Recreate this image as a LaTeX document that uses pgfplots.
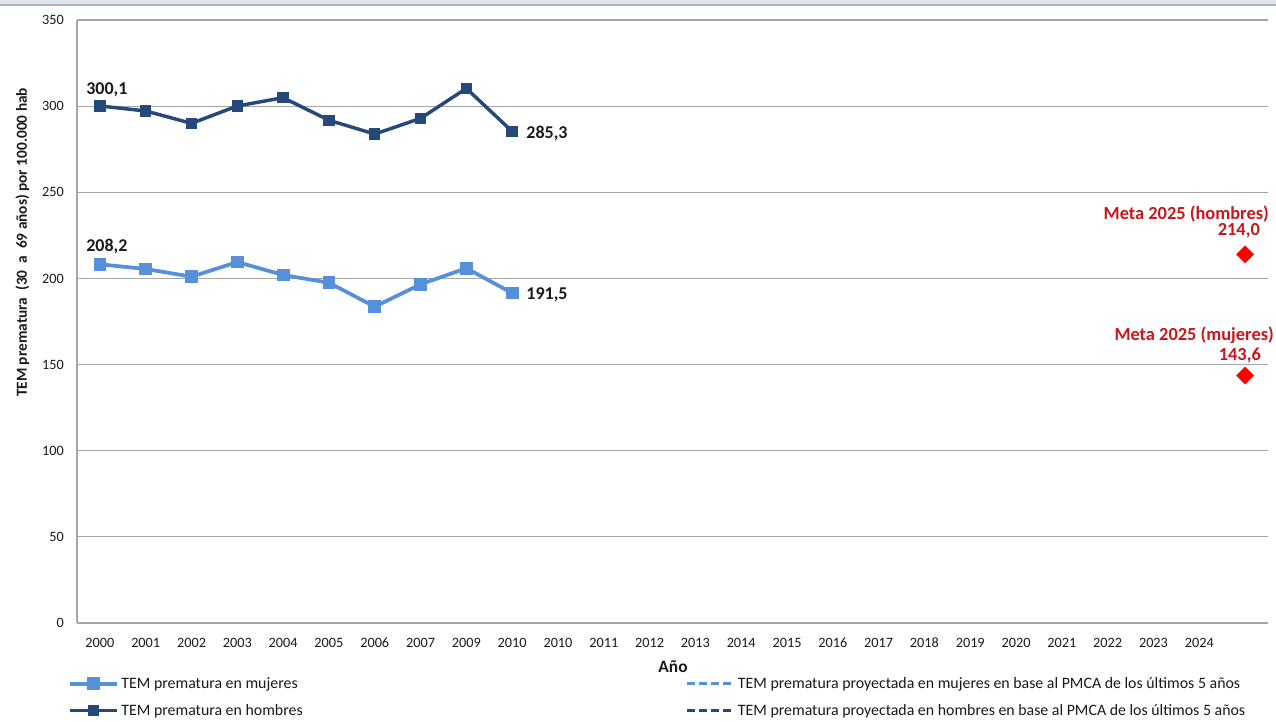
\documentclass[border=0pt]{standalone}
\usepackage{fontspec}
\setmainfont{Carlito}
\usepackage{pgfplots}
\pgfplotsset{compat=1.18}
\definecolor{men}{HTML}{26497C}
\definecolor{women}{HTML}{5590D8}
\definecolor{gridc}{HTML}{A6A6A6}
\definecolor{meta}{HTML}{C8161D}
\definecolor{txt}{HTML}{1A1A1A}
\definecolor{topband}{HTML}{DCE4EE}
\begin{document}
\begin{tikzpicture}[x=0.75pt,y=0.75pt]
\useasboundingbox (0,0) rectangle (1276,721);
\fill[white] (0,0) rectangle (1276,721);
\fill[topband] (0,716) rectangle (1276,721);
\draw[gray!60, line width=1.2pt] (0,716) -- (1276,716);
\begin{axis}[
  at={(57.75pt,73.5pt)}, anchor=south west,
  scale only axis, width=893.25pt, height=452.25pt,
  xmin=-0.5, xmax=25.5, ymin=0, ymax=350,
  axis x line*=bottom, axis y line*=left,
  xtick={0,...,24},
  xticklabels={2000,2001,2002,2003,2004,2005,2006,2007,2009,2010,2010,2011,2012,2013,2014,2015,2016,2017,2018,2019,2020,2021,2022,2023,2024},
  major tick length=0pt,
  ytick={0,50,...,350},
  ymajorgrids, grid style={gridc, line width=0.9pt},
  axis line style={gridc, line width=1.2pt},
  tick label style={font=\fontsize{10.7}{12}\selectfont, text=txt},
  /pgf/number format/assume math mode=true,
  yticklabel style={inner sep=0pt, xshift=-9.75pt},
  xticklabel style={inner sep=0pt, yshift=-11pt},
  clip=false,
  legend columns=2,
  legend cell align=left,
  legend style={at={(axis description cs:-0.0075,-0.085)}, anchor=north west, draw=none, fill=none, inner sep=0pt,
    font=\fontsize{11.9}{14}\selectfont, text=txt,
    /tikz/every even column/.append style={column sep=285pt}, row sep=6.5pt},
  legend image code/.code={\draw[mark repeat=2,mark phase=2,#1] plot coordinates {(0pt,0pt) (17.5pt,0pt) (35pt,0pt)};},
]
\addplot[women, line width=2.8pt, mark=square*, mark size=3.4pt, mark options={solid}] coordinates {
 (0,208.2) (1,205.5) (2,201.0) (3,209.5) (4,202.0) (5,197.5) (6,183.6) (7,196.6) (8,205.9) (9,191.5)};
\addlegendentry{TEM prematura en mujeres}
\addlegendimage{women, line width=2.4pt, dash pattern=on 6pt off 3pt}
\addlegendentry{TEM prematura proyectada en mujeres en base al PMCA de los últimos 5 años}
\addplot[men, line width=2.6pt, mark=square*, mark size=3pt, mark options={solid}] coordinates {
 (0,300.1) (1,297.2) (2,290.0) (3,300.1) (4,304.9) (5,291.8) (6,283.8) (7,292.9) (8,310.3) (9,285.3)};
\addlegendentry{TEM prematura en hombres}
\addlegendimage{men, line width=2.4pt, dash pattern=on 6pt off 3pt}
\addlegendentry{TEM prematura proyectada en hombres en base al PMCA de los últimos 5 años}
\addplot[red, only marks, mark=square*, mark size=4.5pt, mark options={rotate=45}, forget plot] coordinates {(25,214.0) (25,143.6)};
\begin{scope}[font=\bfseries\fontsize{13.5}{15}\selectfont, text=txt]
\node at (axis cs:0,300.1) [inner sep=0pt, xshift=5.25pt, yshift=12pt] {300,1};
\node at (axis cs:9,285.3) [anchor=west, inner sep=0pt, xshift=10.5pt, yshift=-1.5pt] {285,3};
\node at (axis cs:0,208.2) [inner sep=0pt, xshift=5.25pt, yshift=13.3pt] {208,2};
\node at (axis cs:9,191.5) [anchor=west, inner sep=0pt, xshift=10.5pt, yshift=-1.5pt] {191,5};
\end{scope}
\begin{scope}[font=\bfseries\fontsize{13.8}{15}\selectfont, text=meta]
\node at (axis cs:25,214.0) [anchor=east, inner sep=0pt, xshift=18pt, yshift=30.5pt] {Meta 2025 (hombres)};
\node at (axis cs:25,214.0) [anchor=east, inner sep=0pt, xshift=11.25pt, yshift=17.5pt] {214,0};
\node at (axis cs:25,143.6) [anchor=east, inner sep=0pt, xshift=21.75pt, yshift=30pt] {Meta 2025 (mujeres)};
\node at (axis cs:25,143.6) [anchor=east, inner sep=0pt, xshift=12pt, yshift=15pt] {143,6};
\end{scope}
\end{axis}
\node[rotate=90, font=\bfseries\fontsize{11.5}{13}\selectfont, text=txt] at (22.5,478.5) {TEM prematura \ (30 \ a \ 69 años) por 100.000 hab};
\node[font=\bfseries\fontsize{13}{15}\selectfont, text=txt] at (673,54) {Año};
\end{tikzpicture}
\end{document}
